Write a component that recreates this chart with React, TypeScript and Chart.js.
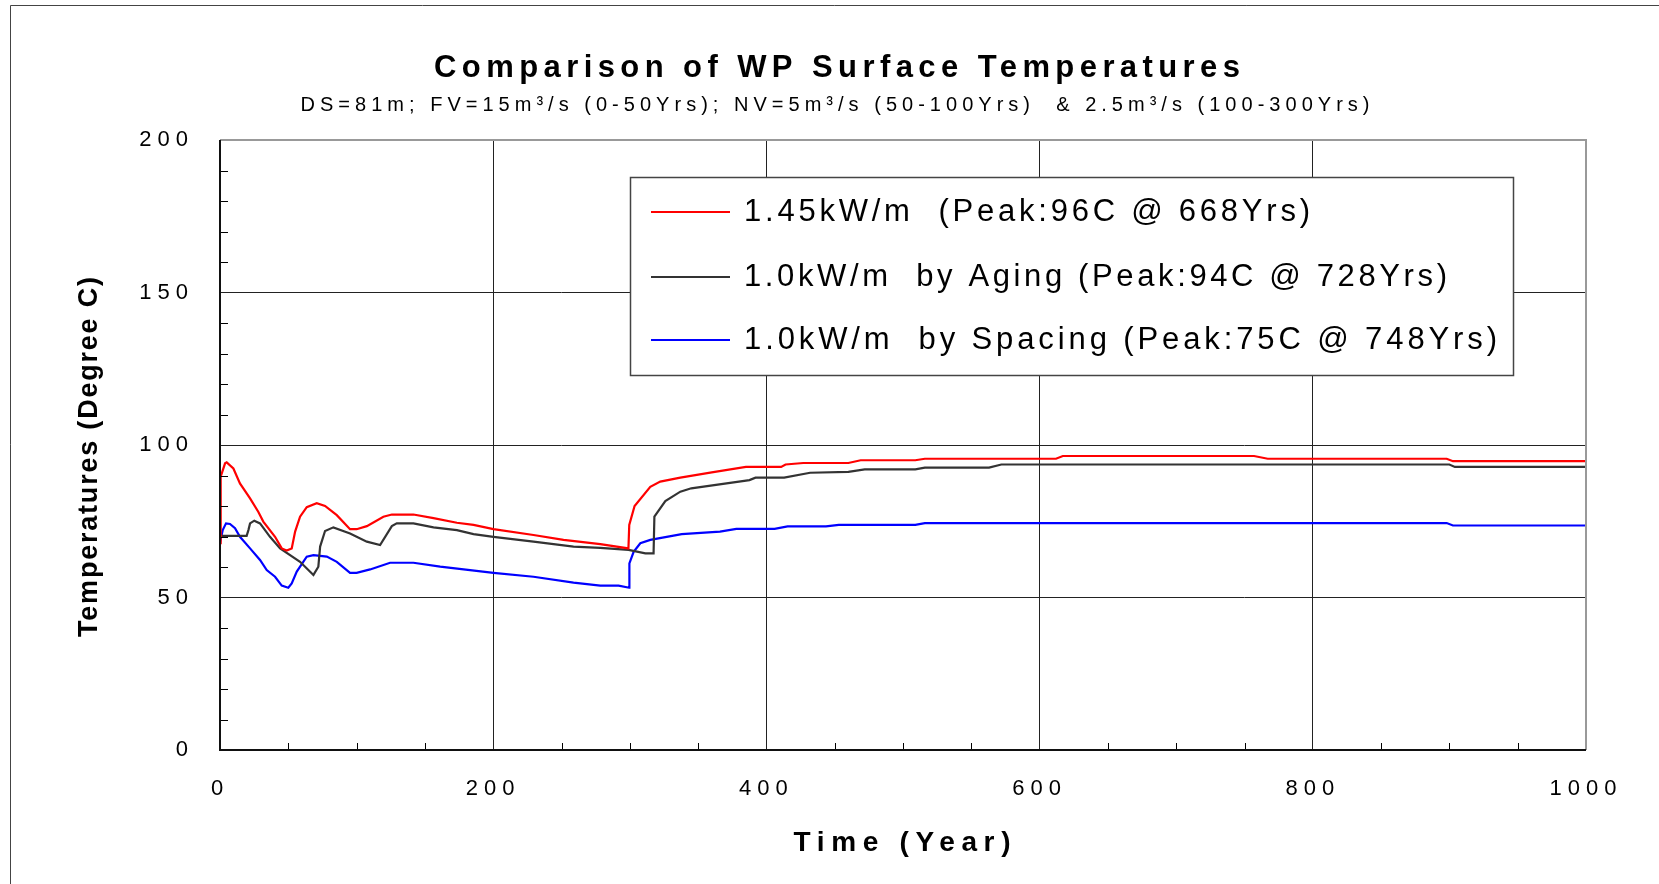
import { useEffect, useRef } from 'react';
import { Chart, registerables } from 'chart.js';

Chart.register(...registerables);

// ---------- data ----------
const SERIES_LABELS = [
  '1.45kW/m  (Peak:96C @ 668Yrs)',
  '1.0kW/m  by Aging (Peak:94C @ 728Yrs)',
  '1.0kW/m  by Spacing (Peak:75C @ 748Yrs)',
];

const RED_YEARS = [0, 0.5, 3.7, 4.9, 9.8, 14.6, 22, 28, 31.7, 40.3, 45.2, 48.8, 52.5, 55, 58.6, 63.5, 70.8, 76.9, 85.5, 95.2, 100, 107.5, 119.6, 125.8, 141.6, 156.3, 173.4, 185.6, 200.2, 229.5, 251.5, 278.4, 299, 299.6, 303.5, 315, 322.3, 337, 360, 385, 410.8, 414, 427, 460, 469, 509, 516, 612, 617, 757, 767, 898, 902.6, 1000];
const RED_TEMPS = [67.8, 89.6, 94, 94.3, 92.3, 87.4, 82.5, 78.1, 74.9, 69.9, 66.1, 65.4, 66.1, 71.6, 76.5, 79.6, 80.9, 80, 77, 72.4, 72.4, 73.4, 76.5, 77.2, 77.2, 76, 74.5, 73.8, 72.4, 70.5, 68.9, 67.5, 66.1, 73.8, 80, 86.3, 88, 89.3, 91, 92.8, 92.8, 93.6, 94.1, 94.1, 95, 95, 95.5, 95.5, 96.4, 96.4, 95.5, 95.5, 94.7, 94.7];

const BLACK_YEARS = [0, 19.5, 20.8, 22, 25.1, 29.3, 36.6, 44, 58.6, 68.4, 72, 73.3, 76.9, 83, 95.2, 107.5, 117.2, 125.8, 129.4, 141.6, 156.3, 173.4, 185.6, 200.2, 229.5, 258.8, 278.4, 299.1, 311.4, 317.4, 318, 326, 337, 345, 387.6, 392, 413, 432, 460, 472, 509, 516, 563, 572, 900, 904, 1000];
const BLACK_TEMPS = [70.2, 70.2, 72.1, 74.3, 75.2, 74.3, 69.9, 66.1, 61.7, 57.4, 60.1, 66.7, 71.8, 73, 71, 68.3, 67.2, 73.4, 74.3, 74.3, 73, 72.1, 70.8, 69.9, 68.3, 66.7, 66.3, 65.6, 64.5, 64.5, 76.5, 81.6, 84.7, 85.8, 88.5, 89.3, 89.3, 90.9, 91.2, 92, 92, 92.6, 92.6, 93.6, 93.6, 92.8, 92.8];

const BLUE_YEARS = [0, 2, 4.4, 7.3, 11, 14.6, 22, 29.3, 34.2, 40.3, 45.2, 50, 52.5, 56.2, 63.5, 68.4, 78.2, 85.5, 95.2, 100, 109.9, 124.5, 141.6, 161.2, 200.2, 229.5, 258.8, 278.4, 291.8, 299.6, 299.7, 302.8, 307.7, 315, 338, 366, 378, 406, 415.5, 443.6, 453, 509, 516, 898, 902.6, 1000];
const BLUE_TEMPS = [68, 72.1, 74.3, 74.1, 72.7, 69.9, 66.1, 62.3, 59, 56.8, 53.9, 53.2, 54.6, 58.5, 63.4, 63.9, 63.4, 61.7, 58.1, 58.1, 59.2, 61.4, 61.4, 60.1, 58.1, 56.8, 54.9, 53.9, 53.9, 53.2, 61.2, 65, 67.8, 68.9, 70.8, 71.6, 72.5, 72.5, 73.3, 73.3, 73.8, 73.8, 74.4, 74.4, 73.6, 73.6];

const X_TICKS = [0, 200, 400, 600, 800, 1000];
const Y_TICKS = [0, 50, 100, 150, 200];
const X_MINOR_TICKS = [50, 100, 150, 250, 300, 350, 450, 500, 550, 650, 700, 750, 850, 900, 950];
const Y_MINOR_TICKS = [10, 20, 30, 40, 60, 70, 80, 90, 110, 120, 130, 140, 160, 170, 180, 190];

const TITLE = 'Comparison of WP Surface Temperatures';
const SUBTITLE = 'DS=81m; FV=15m³/s (0-50Yrs); NV=5m³/s (50-100Yrs)  & 2.5m³/s (100-300Yrs)';
const X_TITLE = 'Time (Year)';
const Y_TITLE = 'Temperatures (Degree C)';

const COLORS = ['#ff0000', '#333333', '#0000ff'];
const FONT = "'Liberation Sans', Arial, sans-serif";

// ---------- helpers ----------
function pairs(xs: number[], ys: number[]) {
  return xs.map((x, i) => ({ x, y: ys[i] }));
}

function drawSpaced(ctx: any, text: string, x: number, y: number, targetW: number, font: string, align: 'left' | 'center') {
  ctx.save();
  ctx.font = font;
  ctx.fillStyle = '#000';
  ctx.textBaseline = 'middle';
  ctx.textAlign = 'left';
  if ('letterSpacing' in ctx) ctx.letterSpacing = '0px';
  const chars = Array.from(text);
  const natural = ctx.measureText(text).width;
  const s = chars.length > 1 ? (targetW - natural) / (chars.length - 1) : 0;
  const x0 = align === 'center' ? x - targetW / 2 : x;
  if ('letterSpacing' in ctx) {
    ctx.letterSpacing = s + 'px';
    ctx.fillText(text, x0, y);
  } else {
    let cx = x0;
    for (const ch of chars) {
      ctx.fillText(ch, cx, y);
      cx += ctx.measureText(ch).width + s;
    }
  }
  ctx.restore();
}

const decorPlugin = {
  id: 'decor',
  beforeDraw(chart: any) {
    const ctx = chart.ctx;
    ctx.save();
    ctx.fillStyle = '#ffffff';
    ctx.fillRect(0, 0, chart.width, chart.height);
    ctx.restore();
    if ('letterSpacing' in ctx) ctx.letterSpacing = '6px';
  },
  afterDraw(chart: any) {
    const ctx = chart.ctx;
    if ('letterSpacing' in ctx) ctx.letterSpacing = '0px';
    const a = chart.chartArea;
    const xs = chart.scales.x;
    const ys = chart.scales.y;

    // minor ticks
    ctx.save();
    ctx.strokeStyle = '#000';
    ctx.lineWidth = 1;
    ctx.beginPath();
    for (const v of Y_MINOR_TICKS) {
      const p = Math.round(ys.getPixelForValue(v)) + 0.5;
      ctx.moveTo(a.left, p);
      ctx.lineTo(a.left + 8, p);
    }
    for (const v of X_MINOR_TICKS) {
      const p = Math.round(xs.getPixelForValue(v)) + 0.5;
      ctx.moveTo(p, a.bottom);
      ctx.lineTo(p, a.bottom - 7);
    }
    ctx.stroke();

    // frame
    ctx.lineWidth = 2;
    ctx.strokeStyle = '#999999';
    ctx.beginPath();
    ctx.moveTo(a.left, a.top);
    ctx.lineTo(a.right, a.top);
    ctx.lineTo(a.right, a.bottom);
    ctx.stroke();
    ctx.strokeStyle = '#111111';
    ctx.beginPath();
    ctx.moveTo(a.left, a.top);
    ctx.lineTo(a.left, a.bottom);
    ctx.lineTo(a.right, a.bottom);
    ctx.stroke();

    // outer frame (left + top)
    ctx.lineWidth = 1;
    ctx.strokeStyle = '#444';
    ctx.beginPath();
    ctx.moveTo(10.5, chart.height);
    ctx.lineTo(10.5, 5.5);
    ctx.lineTo(chart.width, 5.5);
    ctx.stroke();

    // legend box
    const lx = 630, ly = 177, lw = 883, lh = 198;
    ctx.fillStyle = '#fff';
    ctx.fillRect(lx, ly, lw, lh);
    ctx.strokeStyle = '#444';
    ctx.lineWidth = 1.5;
    ctx.strokeRect(lx + 0.5, ly + 0.5, lw, lh);
    const rowY = [212, 277, 340];
    const rowW = [566, 703, 753];
    SERIES_LABELS.forEach((lab, i) => {
      ctx.strokeStyle = COLORS[i];
      ctx.lineWidth = 2;
      ctx.beginPath();
      ctx.moveTo(651, rowY[i]);
      ctx.lineTo(730, rowY[i]);
      ctx.stroke();
      drawSpaced(ctx, lab, 744, rowY[i], rowW[i], `31px ${FONT}`, 'left');
    });
    ctx.restore();

    // titles
    drawSpaced(ctx, TITLE, 837, 68, 806, `bold 31px ${FONT}`, 'center');
    drawSpaced(ctx, SUBTITLE, 835, 105, 1069, `20px ${FONT}`, 'center');
    drawSpaced(ctx, X_TITLE, 902, 843, 217, `bold 28px ${FONT}`, 'center');
    ctx.save();
    ctx.translate(90, 457);
    ctx.rotate(-Math.PI / 2);
    drawSpaced(ctx, Y_TITLE, 0, 0, 360, `bold 27px ${FONT}`, 'center');
    ctx.restore();
  },
};

export default function App() {
  const ref = useRef<HTMLCanvasElement | null>(null);
  useEffect(() => {
    if (!ref.current) return;
    const chart = new Chart(ref.current, {
      type: 'line',
      data: {
        datasets: [
          { label: SERIES_LABELS[0], data: pairs(RED_YEARS, RED_TEMPS), borderColor: COLORS[0] },
          { label: SERIES_LABELS[1], data: pairs(BLACK_YEARS, BLACK_TEMPS), borderColor: COLORS[1] },
          { label: SERIES_LABELS[2], data: pairs(BLUE_YEARS, BLUE_TEMPS), borderColor: COLORS[2] },
        ],
      },
      options: {
        responsive: false,
        animation: false,
        devicePixelRatio: 1,
        layout: { padding: { left: 0, top: 140, right: 73, bottom: 0 } },
        elements: {
          point: { radius: 0 },
          line: { tension: 0, borderWidth: 2.2, fill: false },
        },
        plugins: {
          legend: { display: false },
          title: { display: false },
          tooltip: { enabled: false },
        },
        scales: {
          x: {
            type: 'linear',
            min: 0,
            max: 1000,
            afterBuildTicks: (s: any) => { s.ticks = X_TICKS.map((v) => ({ value: v })); },
            afterFit: (s: any) => { s.height = 134; },
            ticks: { color: '#000', font: { family: FONT, size: 22 }, padding: 26, maxRotation: 0, callback: (v: any) => String(v) },
            grid: { color: '#222', lineWidth: 1, drawTicks: false },
            border: { display: false },
          },
          y: {
            min: 0,
            max: 200,
            afterBuildTicks: (s: any) => { s.ticks = Y_TICKS.map((v) => ({ value: v })); },
            afterFit: (s: any) => { s.width = 220; },
            ticks: { color: '#000', font: { family: FONT, size: 22 }, padding: 26, callback: (v: any) => String(v) },
            grid: { color: '#222', lineWidth: 1, drawTicks: false },
            border: { display: false },
          },
        },
      },
      plugins: [decorPlugin],
    });
    return () => chart.destroy();
  }, []);
  return (
    <div style={{ position: 'absolute', left: 0, top: 0, width: 1659, height: 884, background: '#fff' }}>
      <canvas ref={ref} width={1659} height={884} style={{ display: 'block', width: 1659, height: 884 }} />
    </div>
  );
}
